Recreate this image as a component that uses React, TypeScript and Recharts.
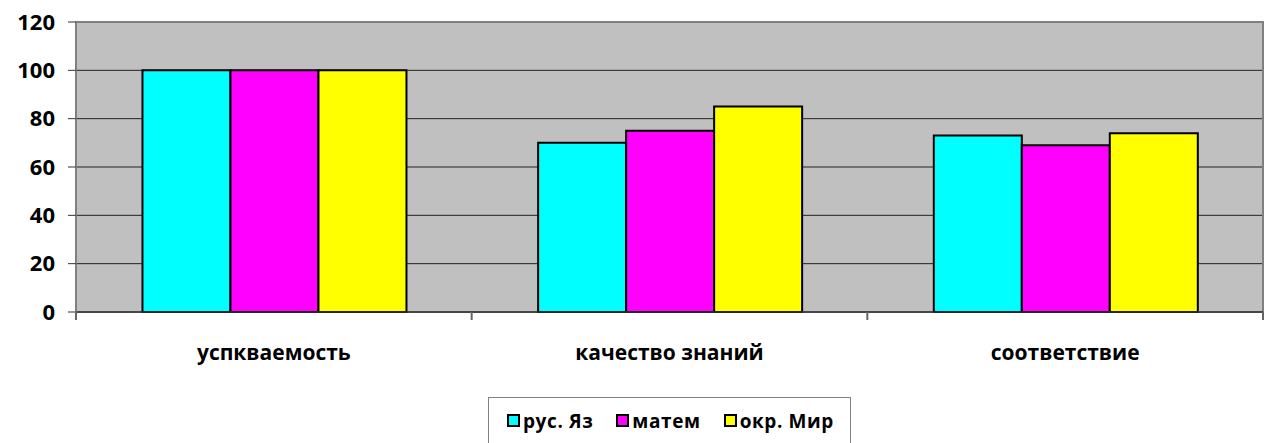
import { BarChart, Bar, XAxis, YAxis, CartesianGrid, ReferenceArea } from "recharts";

const categories = ["успкваемость", "качество знаний", "соответствие"];
const russian = [100, 70, 73];
const math = [100, 75, 69];
const world = [100, 85, 74];
const yTicks = [0, 20, 40, 60, 80, 100, 120];

const series = [
  { key: "rus", name: "рус. Яз", color: "#00FFFF" },
  { key: "math", name: "матем", color: "#FF00FF" },
  { key: "world", name: "окр. Мир", color: "#FFFF00" },
];

const rows = categories.map((name, i) => ({
  name,
  rus: russian[i],
  math: math[i],
  world: world[i],
}));

const font = "'Open Sans', sans-serif";

// category label plus the small tick marks Excel puts between categories
function CategoryTick(props: any) {
  const { x, y, payload, index, visibleTicksCount } = props;
  const half = payload.offset ?? 0;
  const last = index === visibleTicksCount - 1;
  return (
    <g>
      <line x1={x - half} x2={x - half} y1={y} y2={y + 8} stroke="#666" strokeWidth={2} />
      {last && <line x1={x + half} x2={x + half} y1={y} y2={y + 8} stroke="#666" strokeWidth={2} />}
      <text
        x={x}
        y={y + 48}
        textAnchor="middle"
        fontFamily={font}
        fontWeight={700}
        fontSize={21}
        fill="#000"
      >
        {payload.value}
      </text>
    </g>
  );
}

function LegendBox() {
  return (
    <div
      style={{
        position: "absolute",
        left: 488,
        top: 397,
        border: "1px solid #808080",
        borderBottom: "none",
        width: 363,
        height: 46,
        boxSizing: "border-box",
        display: "flex",
        alignItems: "center",
        paddingLeft: 18,
        whiteSpace: "nowrap",
        fontFamily: font,
        fontWeight: 700,
        fontSize: 19,
        letterSpacing: 0.6,
        color: "#000",
        background: "#fff",
      }}
    >
      {series.map((s) => (
        <span
          key={s.key}
          style={{ display: "flex", alignItems: "center", marginRight: 23, flexShrink: 0 }}
        >
          <span
            style={{
              width: 9,
              height: 9,
              background: s.color,
              border: "2px solid #000",
              marginRight: 3,
              display: "inline-block",
              flexShrink: 0,
            }}
          />
          {s.name}
        </span>
      ))}
    </div>
  );
}

export default function App() {
  return (
    <div style={{ position: "absolute", left: 0, top: 0, width: 1265, height: 443, background: "#fff" }}>
      <BarChart
        width={1265}
        height={443}
        data={rows}
        margin={{ top: 22, right: 2, left: 0, bottom: 71 }}
        barGap={0}
        barCategoryGap="16.8%"
      >
        <CartesianGrid vertical={false} stroke="#222" fill="#C0C0C0" fillOpacity={1} />
        <ReferenceArea y1={0} y2={120} fill="none" stroke="#808080" strokeWidth={2} ifOverflow="visible" />
        <XAxis
          dataKey="name"
          height={60}
          axisLine={{ stroke: "#333", strokeWidth: 1.5 }}
          tickLine={false}
          tickSize={0}
          tickMargin={0}
          tick={<CategoryTick />}
        />
        <YAxis
          width={76}
          domain={[0, 120]}
          ticks={yTicks}
          interval={0}
          axisLine={{ stroke: "#808080", strokeWidth: 1.5 }}
          tickLine={{ stroke: "#333" }}
          tickSize={8}
          tick={{ fontFamily: font, fontWeight: 700, fontSize: 22, fill: "#000", dx: -11 }}
        />
        {series.map((s) => (
          <Bar
            key={s.key}
            dataKey={s.key}
            name={s.name}
            fill={s.color}
            stroke="#000"
            strokeWidth={2}
            isAnimationActive={false}
          />
        ))}
      </BarChart>
      <LegendBox />
    </div>
  );
}
